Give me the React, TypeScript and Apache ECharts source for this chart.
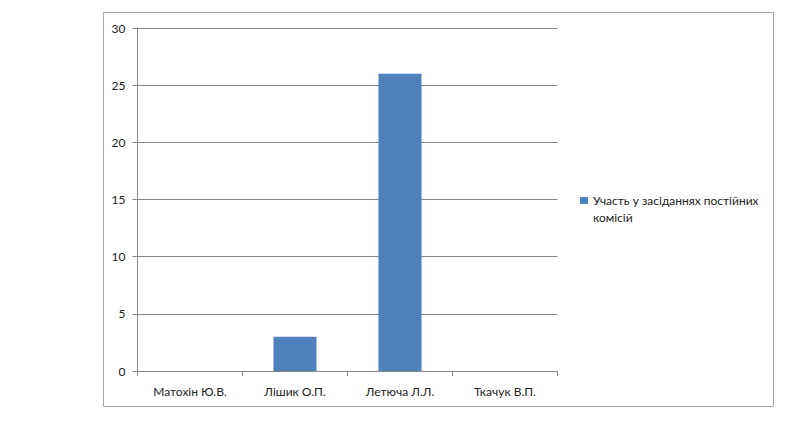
import React, { useEffect, useRef } from "react";
import * as echarts from "echarts";

const categories = ["Матохін Ю.В.", "Лішик О.П.", "Летюча Л.Л.", "Ткачук В.П."];
const values = [0, 3, 26, 0];
const seriesName = "Участь у засіданнях постійних комісій";
const legendLines = ["Участь у засіданнях постійних", "комісій"];

export default function App() {
  const ref = useRef<HTMLDivElement>(null);
  useEffect(() => {
    if (!ref.current) return;
    const chart = echarts.init(ref.current, null, { renderer: "svg" });
    const font = "Lato, 'Open Sans', sans-serif";
    chart.setOption({
      animation: false,
      backgroundColor: "#ffffff",
      textStyle: { fontFamily: font },
      graphic: [
        {
          type: "rect",
          shape: { x: 103.5, y: 12.5, width: 670, height: 394 },
          style: { fill: "none", stroke: "#a6a6a6", lineWidth: 1 },
          silent: true,
        },
      ],
      grid: { left: 137.5, right: 242.5, top: 28, bottom: 52 },
      legend: {
        orient: "vertical",
        left: 575,
        top: 170,
        itemWidth: 8,
        itemHeight: 7,
        itemGap: 5,
        icon: "rect",
        formatter: () => " \n" + legendLines.join("\n"),
        textStyle: {
          fontFamily: font,
          fontSize: 12,
          color: "#222",
          lineHeight: 17,
        },
        data: [seriesName],
      },
      xAxis: {
        type: "category",
        data: categories,
        axisLine: { lineStyle: { color: "#868686", width: 1 } },
        axisTick: { show: true, length: 5, alignWithLabel: false, lineStyle: { color: "#868686" } },
        axisLabel: { color: "#222", fontSize: 12, margin: 14, fontFamily: font },
      },
      yAxis: {
        type: "value",
        min: 0,
        max: 30,
        interval: 5,
        axisLine: { show: true, lineStyle: { color: "#868686", width: 1 } },
        axisTick: { show: true, length: 5, lineStyle: { color: "#868686" } },
        axisLabel: { color: "#222", fontSize: 12, margin: 12, fontFamily: font },
        splitLine: { lineStyle: { color: "#868686", width: 1 } },
      },
      series: [
        {
          name: seriesName,
          type: "bar",
          data: values,
          barWidth: "41%",
          itemStyle: { color: "#4f81bd" },
        },
      ],
    });
    return () => chart.dispose();
  }, []);
  return (
    <div
      ref={ref}
      style={{ position: "absolute", left: 0, top: 0, width: 800, height: 423 }}
    />
  );
}
